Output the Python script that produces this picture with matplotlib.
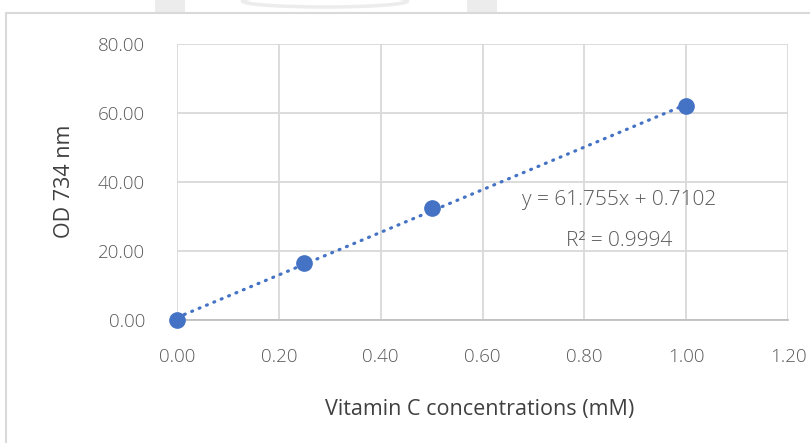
import numpy as np
import matplotlib.pyplot as plt
from matplotlib.patches import Rectangle, Ellipse

# standard curve: vitamin C vs OD 734 nm
conc = [0.0, 0.25, 0.5, 1.0]
od = [0.0, 16.6, 32.36, 61.95]
slope = 61.755
intercept = 0.7102
r2 = 0.9994
xticks = [0.0, 0.2, 0.4, 0.6, 0.8, 1.0, 1.2]
yticks = [0, 20, 40, 60, 80]

blue = '#4472C4'
grid = '#d9d9d9'
tick_col = '#595959'

plt.rcParams['font.family'] = ['Open Sans', 'DejaVu Sans']

fig = plt.figure(figsize=(8.1, 4.43), dpi=100)
W, H = 810, 443

# faint stamp showing above the chart box
for x0 in (155, 467):
    fig.patches.append(Rectangle((x0 / W, 1 - 13 / H), 30 / W, 13 / H, transform=fig.transFigure,
                                 facecolor='#ececec', edgecolor='none', zorder=-2))
fig.patches.append(Ellipse((325 / W, 1 - 1 / H), 165 / W, 12 / H, transform=fig.transFigure,
                           fill=False, edgecolor='#ececec', linewidth=2.5, zorder=-2))

# chart border
fig.patches.append(Rectangle((6 / W, -0.1), 1.1, 1 - 13 / H + 0.1, transform=fig.transFigure,
                             facecolor='white', edgecolor=grid, linewidth=1.5, zorder=-1))

ax = fig.add_axes([177 / W, 1 - 320 / H, (788 - 177) / W, (320 - 44) / H])
ax.patch.set_alpha(0)
ax.set_xlim(0, 1.2)
ax.set_ylim(0, 80)
ax.set_xticks(xticks)
ax.set_yticks(yticks)
ax.set_xticklabels(['%.2f' % v for v in xticks], fontweight='light')
ax.set_yticklabels(['%.2f' % v for v in yticks], fontweight='light')
ax.tick_params(length=0, labelsize=13.5, labelcolor=tick_col)
ax.tick_params(axis='x', pad=20)
ax.tick_params(axis='y', pad=23)
ax.grid(True, color=grid, linewidth=1.3)
ax.set_axisbelow(True)
for s in ['top', 'right', 'left']:
    ax.spines[s].set_visible(False)
ax.spines['bottom'].set_color('#bfbfbf')
ax.spines['bottom'].set_linewidth(1.3)

# trend line
tx = np.array([0.0, 1.0])
ax.plot(tx, slope * tx + intercept, linestyle=(0, (0.3, 2.2)), dash_capstyle='round',
        color=blue, linewidth=2.3, zorder=3)
ax.plot(conc, od, 'o', color=blue, markersize=11, zorder=4, clip_on=False)

ax.text(0.869, 34.8, 'y = %.3fx + %.4f' % (slope, intercept), ha='center', va='center',
        fontsize=15, color=tick_col, fontweight='light')
ax.text(0.869, 23.0, 'R² = %.4f' % r2, ha='center', va='center',
        fontsize=15, color=tick_col, fontweight='light')

fig.text(480 / W, 1 - 409 / H, 'Vitamin C concentrations (mM)', ha='center', va='center',
         fontsize=15.5, color='#404040')
fig.text(65 / W, 1 - 181 / H, 'OD 734 nm', ha='center', va='center', rotation=90,
         fontsize=15.5, color='#404040')

fig.savefig('out.png', dpi=100)
